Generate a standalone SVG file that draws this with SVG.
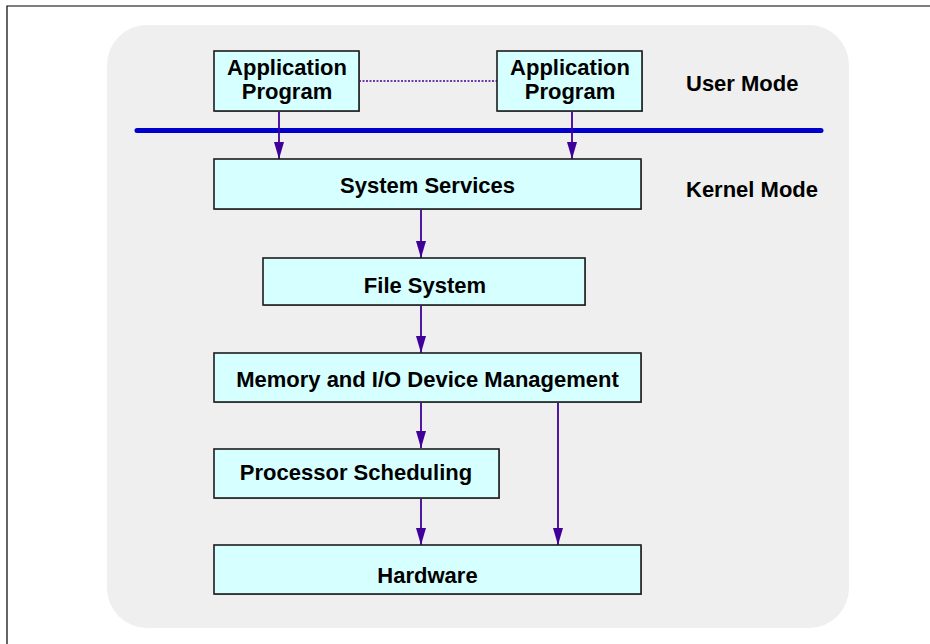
<svg xmlns="http://www.w3.org/2000/svg" width="930" height="644" viewBox="0 0 930 644">
  <style>
    .box { fill: #d6ffff; stroke: #1c1c1c; stroke-width: 1.6; }
    .shadow { fill: #8a8a8a; }
    .lbl { font-family: "Liberation Sans", Arial, sans-serif; font-weight: bold; font-size: 22px; fill: #000; text-anchor: middle; }
    .mode { font-family: "Liberation Sans", Arial, sans-serif; font-weight: bold; font-size: 22px; fill: #000; }
    .flow { stroke: #3f0099; stroke-width: 1.8; fill: none; marker-end: url(#tip); }
  </style>
  <defs>
    <marker id="tip" markerUnits="userSpaceOnUse" markerWidth="18" markerHeight="12" refX="17" refY="5.5" orient="auto" viewBox="0 0 18 11">
      <path d="M0,0.5 L17,5.5 L0,10.5 Z" fill="#3f0099"/>
    </marker>
  </defs>

  <!-- page frame -->
  <path d="M7,644 V6 H930" fill="none" stroke="#000" stroke-width="1.2"/>

  <!-- panel -->
  <rect x="107" y="25" width="742" height="603" rx="40" ry="40" fill="#efefef"/>

  <!-- user / kernel boundary -->
  <line x1="137" y1="130.5" x2="821" y2="130.5" stroke="#0000cc" stroke-width="5" stroke-linecap="round"/>

  <text class="mode" x="686" y="91">User Mode</text>
  <text class="mode" x="686" y="197">Kernel Mode</text>

  <g id="connectors">
    <line x1="359" y1="81" x2="497" y2="81" stroke="#3f0099" stroke-width="1.3" stroke-dasharray="2,1.5"/>
    <line class="flow" x1="279" y1="111" x2="279" y2="159"/>
    <line class="flow" x1="572" y1="111" x2="572" y2="159"/>
    <line class="flow" x1="421" y1="209" x2="421" y2="258"/>
    <line class="flow" x1="421" y1="305" x2="421" y2="353"/>
    <line class="flow" x1="421" y1="400" x2="421" y2="448"/>
    <line class="flow" x1="421" y1="494" x2="421" y2="545"/>
    <line class="flow" x1="558" y1="402" x2="558" y2="545"/>
  </g>

  <g id="app1">
    <rect class="shadow" x="215" y="52" width="145" height="60"/>
    <rect class="box" x="214" y="51" width="145" height="60"/>
    <text class="lbl" x="287" y="75">Application</text>
    <text class="lbl" x="287" y="99">Program</text>
  </g>

  <g id="app2">
    <rect class="shadow" x="498" y="52" width="145" height="60"/>
    <rect class="box" x="497" y="51" width="145" height="60"/>
    <text class="lbl" x="570" y="75">Application</text>
    <text class="lbl" x="570" y="99">Program</text>
  </g>

  <g id="system-services">
    <rect class="shadow" x="215" y="160" width="427" height="50"/>
    <rect class="box" x="214" y="159" width="427" height="50"/>
    <text class="lbl" x="427.5" y="193">System Services</text>
  </g>

  <g id="file-system">
    <rect class="shadow" x="264" y="259" width="322" height="47"/>
    <rect class="box" x="263" y="258" width="322" height="47"/>
    <text class="lbl" x="425" y="293">File System</text>
  </g>

  <g id="memory-io">
    <rect class="shadow" x="215" y="354" width="427" height="49"/>
    <rect class="box" x="214" y="353" width="427" height="49"/>
    <text class="lbl" x="427.5" y="387">Memory and I/O Device Management</text>
  </g>

  <g id="processor-scheduling">
    <rect class="shadow" x="215" y="450" width="285" height="49"/>
    <rect class="box" x="214" y="449" width="285" height="49"/>
    <text class="lbl" x="356" y="480">Processor Scheduling</text>
  </g>

  <g id="hardware">
    <rect class="shadow" x="215" y="546" width="427" height="49"/>
    <rect class="box" x="214" y="545" width="427" height="49"/>
    <text class="lbl" x="427.5" y="583">Hardware</text>
  </g>
</svg>
